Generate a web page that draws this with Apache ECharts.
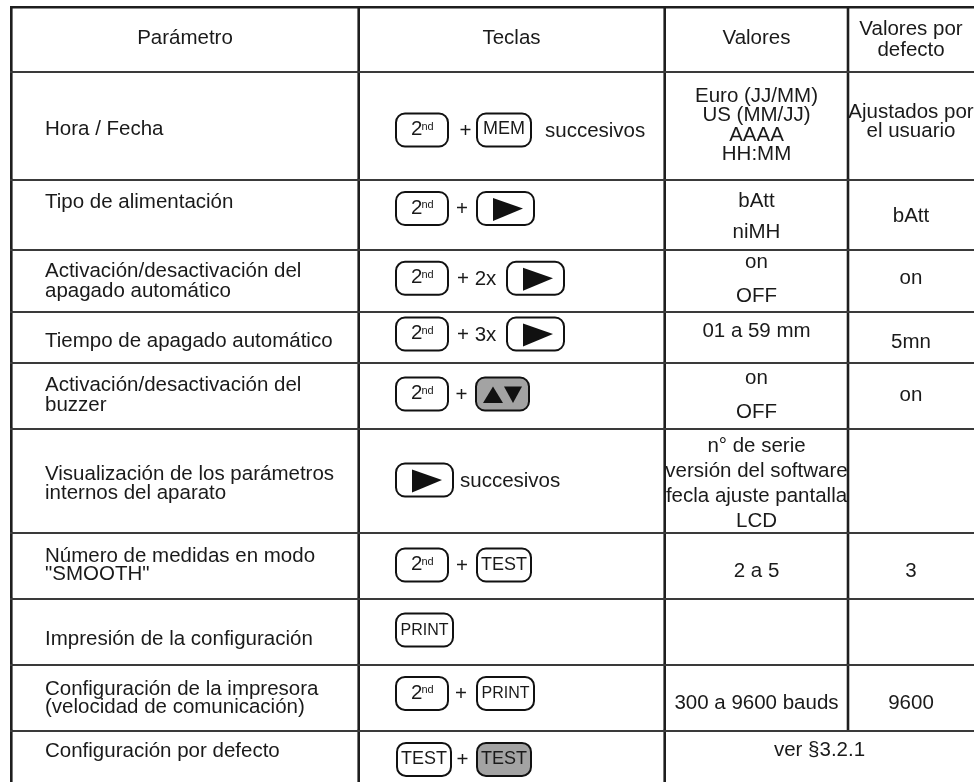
<!DOCTYPE html>
<html><head><meta charset="utf-8">
<script src="https://cdn.jsdelivr.net/npm/echarts@6/dist/echarts.min.js"></script>
<style>html,body{margin:0;padding:0;background:#fff}#c{width:974px;height:782px}</style>
</head><body><div id="c"></div>
<script>
// ---------- DATA ----------
const headers = ['Parámetro', 'Teclas', 'Valores', 'Valores por\ndefecto'];
const parametros = [
  'Hora / Fecha',
  'Tipo de alimentación',
  'Activación/desactivación del\napagado automático',
  'Tiempo de apagado automático',
  'Activación/desactivación del\nbuzzer',
  'Visualización de los parámetros\ninternos del aparato',
  'Número de medidas en modo\n"SMOOTH"',
  'Impresión de la configuración',
  'Configuración de la impresora\n(velocidad de comunicación)',
  'Configuración por defecto'
];
const teclas = [
  ['2nd', '+', 'MEM', 'succesivos'],
  ['2nd', '+', 'ARROW'],
  ['2nd', '+ 2x', 'ARROW'],
  ['2nd', '+ 3x', 'ARROW'],
  ['2nd', '+', 'UPDOWN'],
  ['ARROW', 'succesivos'],
  ['2nd', '+', 'TEST'],
  ['PRINT'],
  ['2nd', '+', 'PRINT'],
  ['TEST', '+', 'TEST_GRAY']
];
const valores = [
  ['Euro (JJ/MM)', 'US (MM/JJ)', 'AAAA', 'HH:MM'],
  ['bAtt', 'niMH'],
  ['on', 'OFF'],
  ['01 a 59 mm'],
  ['on', 'OFF'],
  ['n° de serie', 'versión del software', 'fecla ajuste pantalla', 'LCD'],
  ['2 a 5'],
  [],
  ['300 a 9600 bauds'],
  ['ver §3.2.1']
];
const porDefecto = [
  ['Ajustados por', 'el usuario'],
  ['bAtt'],
  ['on'],
  ['5mn'],
  ['on'],
  [],
  ['3'],
  [],
  ['9600'],
  []
];
const mergedValueRow = 9; // "ver §3.2.1" spans Valores + Valores por defecto

// ---------- LAYOUT ----------
const FONT = "'Liberation Sans', Arial, Helvetica, sans-serif";
const FS = 20.5;
const DY = 1;
const TXT = '#1a1a1a';
const colEdges = [11.3, 358.7, 664.7, 848, 974];
const rowEdges = [7.3, 72, 180, 250, 312, 363, 429, 533, 599, 665, 731, 782];
const headerX = [185, 511.5, 756.5, 911];
const headerY = [[37.5], [37.5], [37.5], [28, 49]];
const paramX = 45;
const paramY = [[128], [201.3], [270.8, 290.3], [340], [384.5, 404.8], [473, 492.7], [555, 573.3], [638], [688, 706.7], [750]];
const valX = 756.5, valMergedX = 819.5, defX = 911;
const valY = [[95, 114.5, 134, 153.5], [200, 231], [261, 295.8], [330.5], [377.3, 411], [445, 470, 495, 520], [570.8], [], [702.5], [749]];
const defY = [[111.7, 130.8], [215], [277], [341.5], [394.3], [], [570.8], [], [702.5], []];
const keyCY = [130, 208.5, 278.3, 334, 394, 480, 565, 630, 693.4, 759.4];
const keyX = [
  [396, 459.5, 477, 545],
  [396, 456, 477],
  [396, 457, 507],
  [396, 457, 507],
  [396, 455.5, 476],
  [396, 460],
  [396, 456, 477],
  [396],
  [396, 455, 477],
  [397, 456.5, 477]
];
const keyW = { '2nd': 52, 'MEM': 54, 'TEST': 54, 'TEST_GRAY': 54, 'PRINT': 57, 'ARROW': 57, 'UPDOWN': 53 };
const KEY_H = 33;

function renderItem(params, api) {
  const i = api.value(0);
  const P = (x, y) => api.coord([x, y]);
  const ch = [];
  const top = rowEdges[i], bot = rowEdges[i + 1];
  const hline = (y, lw, col) => {
    const a = P(colEdges[0] - 1.3, y), b = P(colEdges[4], y);
    ch.push({ type: 'line', shape: { x1: a[0], y1: a[1], x2: b[0], y2: b[1] }, style: { stroke: col, lineWidth: lw } });
  };
  const vline = (x, y1, y2) => {
    const a = P(x, y1), b = P(x, y2);
    ch.push({ type: 'line', shape: { x1: a[0], y1: a[1], x2: b[0], y2: b[1] }, style: { stroke: '#1e1e1e', lineWidth: 2.6 } });
  };
  const text = (s, x, y, size, align) => {
    const p = P(x, y);
    ch.push({ type: 'text', x: p[0], y: p[1], style: { text: s, fill: TXT, font: size + 'px ' + FONT, align: align || 'center', verticalAlign: 'middle' } });
  };
  const rect = (x, y, w, h, fill) => {
    const a = P(x, y), b = P(x + w, y + h);
    ch.push({ type: 'rect', shape: { x: a[0], y: a[1], width: b[0] - a[0], height: b[1] - a[1], r: 9 }, style: { fill: fill, stroke: '#111', lineWidth: 2 } });
  };
  const tri = (pts) => {
    ch.push({ type: 'polygon', shape: { points: pts.map(q => P(q[0], q[1])) }, style: { fill: '#111' } });
  };

  // grid lines
  vline(colEdges[0], top - 1.3, bot);
  vline(colEdges[1], top - 1.3, bot);
  vline(colEdges[2], top - 1.3, bot);
  if (i !== mergedValueRow + 1) vline(colEdges[3], top - 1.3, bot);
  hline(top, i === 0 ? 2.6 : 2.2, i === 0 ? '#1e1e1e' : '#3a3a3a');

  if (i === 0) {
    headers.forEach((h, c) => h.split('\n').forEach((ln, k) => text(ln, headerX[c], headerY[c][k] + DY, FS)));
  } else {
    const r = i - 1;
    parametros[r].split('\n').forEach((ln, k) => text(ln, paramX, paramY[r][k] + DY, FS, 'left'));
    valores[r].forEach((ln, k) => text(ln, r === mergedValueRow ? valMergedX : valX, valY[r][k] + DY, FS));
    porDefecto[r].forEach((ln, k) => text(ln, defX, defY[r][k] + DY, FS));
    const cy = keyCY[r];
    const T = cy - KEY_H / 2;
    teclas[r].forEach((tk, k) => {
      const L = keyX[r][k];
      const w = keyW[tk];
      if (w === undefined) { text(tk, L, cy + DY, FS, 'left'); return; }
      const gray = tk === 'UPDOWN' || tk === 'TEST_GRAY';
      rect(L, T, w, KEY_H, gray ? '#a3a3a3' : '#ffffff');
      if (tk === '2nd') {
        text('2', L + 20.7, cy - 0.5, FS);
        text('nd', L + 25.5, cy - 3.5, 11, 'left');
      } else if (tk === 'MEM') {
        text('MEM', L + w / 2, cy - 0.5, 18);
      } else if (tk === 'TEST' || tk === 'TEST_GRAY') {
        text('TEST', L + w / 2, cy, 18);
      } else if (tk === 'PRINT') {
        text('PRINT', L + w / 2, cy + 0.5, 16);
      } else if (tk === 'ARROW') {
        tri([[L + 16, T + 6], [L + 46, T + 16.5], [L + 16, T + 29]]);
      } else if (tk === 'UPDOWN') {
        tri([[L + 7, T + 25.6], [L + 17, T + 9], [L + 27, T + 25.6]]);
        tri([[L + 28, T + 9], [L + 46, T + 9], [L + 37, T + 25.6]]);
      }
    });
  }
  return { type: 'group', children: ch };
}

const chart = echarts.init(document.getElementById('c'), null, { renderer: 'canvas' });
chart.setOption({
  animation: false,
  backgroundColor: '#ffffff',
  grid: { left: 0, right: 0, top: 0, bottom: 0 },
  xAxis: { type: 'value', min: 0, max: 974, show: false },
  yAxis: { type: 'value', min: 0, max: 782, inverse: true, show: false },
  series: [{
    type: 'custom',
    renderItem: renderItem,
    clip: false,
    silent: true,
    data: rowEdges.slice(0, -1).map((y, i) => [i, y])
  }]
});
</script>
</body></html>
